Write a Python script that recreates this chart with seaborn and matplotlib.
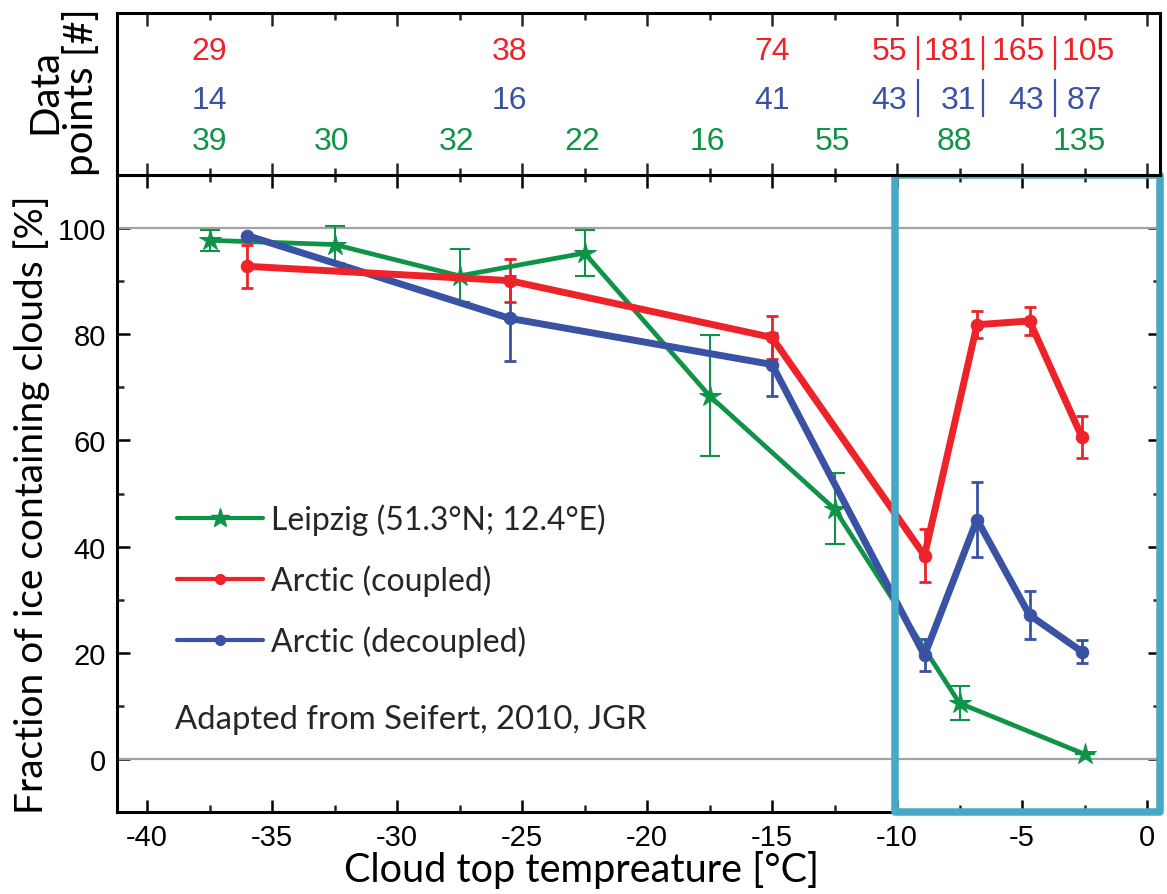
import numpy as np
import pandas as pd
import matplotlib
matplotlib.use("Agg")
import matplotlib.pyplot as plt
import matplotlib.transforms as mtransforms
from matplotlib.lines import Line2D
from matplotlib.patches import Rectangle
from matplotlib.ticker import MultipleLocator
import seaborn as sns

# ---------------- data ----------------
leipzig_temp = [-37.5, -32.5, -27.5, -22.5, -17.5, -12.5, -7.5, -2.5]
leipzig_frac = [97.7, 96.9, 91.0, 95.3, 68.4, 47.1, 10.5, 0.9]
leipzig_err = [2.0, 3.4, 5.0, 4.4, 11.4, 6.7, 3.2, 0.0]
leipzig_n = [39, 30, 32, 22, 16, 55, 88, 135]

arctic_temp = [-36.0, -25.5, -15.0, -8.9, -6.8, -4.7, -2.6]
coupled_frac = [92.8, 90.1, 79.4, 38.3, 81.8, 82.5, 60.6]
coupled_err = [4.0, 4.1, 4.0, 5.0, 2.5, 2.6, 4.0]
coupled_n = [29, 38, 74, 55, 181, 165, 105]
decoupled_frac = [98.6, 83.0, 74.3, 19.5, 45.1, 27.1, 20.2]
decoupled_err = [0.0, 8.0, 6.0, 3.0, 7.0, 4.5, 2.2]
decoupled_n = [14, 16, 41, 43, 31, 43, 87]

series_names = ["Leipzig (51.3°N; 12.4°E)", "Arctic (coupled)", "Arctic (decoupled)"]
x_ticks = [-40, -35, -30, -25, -20, -15, -10, -5, 0]
y_ticks = [0, 20, 40, 60, 80, 100]

# ---------------- layout (label positions in the count panel) ----------------
leipzig_label_x = [-37.5, -32.6, -27.6, -22.6, -17.6, -12.6, -7.7, -2.7]
coupled_label_x = [-37.5, -25.5, -15.0, -10.3, -7.85, -5.15, -2.35]
decoupled_label_x = [-37.5, -25.5, -15.0, -10.3, -7.55, -4.85, -2.5]
separator_x = [-9.15, -6.55, -3.68]

GREEN = "#0F9447"
RED = "#EE2229"
BLUE = "#3A52A3"
CYAN = "#47A9C6"
GRAY = "#A5A1A5"

sns.set_theme(style="ticks")
LABEL_FONT = ["Lato", "DejaVu Sans"]
TICK_FONT = ["Liberation Sans", "DejaVu Sans"]
plt.rcParams["font.family"] = TICK_FONT
plt.rcParams["axes.unicode_minus"] = False

df = pd.concat([
    pd.DataFrame({"temp": leipzig_temp, "frac": leipzig_frac, "series": series_names[0]}),
    pd.DataFrame({"temp": arctic_temp, "frac": coupled_frac, "series": series_names[1]}),
    pd.DataFrame({"temp": arctic_temp, "frac": decoupled_frac, "series": series_names[2]}),
], ignore_index=True)

fig = plt.figure(figsize=(11.67, 8.95), dpi=100)
ax = fig.add_axes([117 / 1167, 1 - 813 / 895, 1043 / 1167, (813 - 176) / 895])
axt = fig.add_axes([117 / 1167, 1 - 176 / 895, 1043 / 1167, (176 - 14) / 895], sharex=ax)

xlim = (-41.2, 0.52)
ax.set_xlim(*xlim)
ax.set_ylim(-10, 110)

# reference lines
ax.axhline(0, color=GRAY, lw=1.6, zorder=1)
ax.axhline(100, color=GRAY, lw=1.6, zorder=1)

# error bars
ax.errorbar(leipzig_temp, leipzig_frac, yerr=leipzig_err, fmt="none", ecolor=GREEN,
            elinewidth=1.5, capsize=7.5, capthick=1.5, zorder=2)
ax.errorbar(arctic_temp, decoupled_frac, yerr=decoupled_err, fmt="none", ecolor=BLUE,
            elinewidth=2.0, capsize=4.5, capthick=2.0, zorder=3)
ax.errorbar(arctic_temp, coupled_frac, yerr=coupled_err, fmt="none", ecolor=RED,
            elinewidth=2.0, capsize=4.5, capthick=2.0, zorder=4)

# lines
sns.lineplot(data=df[df.series == series_names[0]], x="temp", y="frac", ax=ax, color=GREEN,
             lw=3.4, marker="*", markersize=16, markeredgecolor=GREEN, sort=False,
             legend=False, zorder=5)
sns.lineplot(data=df[df.series == series_names[2]], x="temp", y="frac", ax=ax, color=BLUE,
             lw=5.0, marker="o", markersize=9, markeredgecolor=BLUE, sort=False,
             legend=False, zorder=6)
sns.lineplot(data=df[df.series == series_names[1]], x="temp", y="frac", ax=ax, color=RED,
             lw=5.0, marker="o", markersize=9, markeredgecolor=RED, sort=False,
             legend=False, zorder=7)

# axes styling
for a in (ax, axt):
    for s in a.spines.values():
        s.set_linewidth(2.2)
        s.set_color("black")
        s.set_visible(True)

ax.set_xticks(x_ticks)
ax.set_yticks(y_ticks)
ax.xaxis.set_minor_locator(MultipleLocator(2.5))
ax.yaxis.set_minor_locator(MultipleLocator(10))
ax.tick_params(which="major", direction="in", length=9, width=1.8, top=True, right=True,
               labelsize=21, pad=8, colors="black")
ax.tick_params(which="minor", direction="in", length=5, width=1.8, top=True, right=True)

ax.set_xlabel("Cloud top tempreature [°C]", fontsize=28.5, color="black", family=LABEL_FONT)
ax.xaxis.set_label_coords((582 - 117) / 1043, -0.060)
ax.set_ylabel("Fraction of ice containing clouds [%]", fontsize=28, color="black",
              family=LABEL_FONT)
ax.yaxis.set_label_coords(-0.064, (813 - 505) / 637)

# top count panel
axt.set_ylim(0, 1)
axt.tick_params(which="both", direction="in", top=True, bottom=True, left=False, right=False,
                labelbottom=False, labelleft=False, width=1.8)
axt.tick_params(which="major", length=9)
axt.tick_params(which="minor", length=5)
axt.set_ylabel("Data\npoints [#]", fontsize=29, linespacing=0.95, color="black",
               family=LABEL_FONT)
axt.yaxis.set_label_coords(-0.016, 0.52)

ROW_Y = {"red": 0.767, "blue": 0.466, "green": 0.209}
COUNT_FS = 23
for x, n in zip(coupled_label_x, coupled_n):
    axt.text(x, ROW_Y["red"], f"{n}", color=RED, ha="center", va="center", fontsize=COUNT_FS)
for x, n in zip(decoupled_label_x, decoupled_n):
    axt.text(x, ROW_Y["blue"], f"{n}", color=BLUE, ha="center", va="center", fontsize=COUNT_FS)
for x, n in zip(leipzig_label_x, leipzig_n):
    axt.text(x, ROW_Y["green"], f"{n}", color=GREEN, ha="center", va="center", fontsize=COUNT_FS)
axt.vlines(separator_x, 0.65, 0.86, color=RED, lw=1.6)
axt.vlines(separator_x, 0.36, 0.59, color=BLUE, lw=1.6)

# legend
handles = [
    Line2D([], [], color=GREEN, lw=3.0, marker="*", markersize=14),
    Line2D([], [], color=RED, lw=3.0, marker="o", markersize=7),
    Line2D([], [], color=BLUE, lw=3.0, marker="o", markersize=7),
]
ax.legend(handles, series_names, loc="upper left", bbox_to_anchor=(0.045, 0.505),
          frameon=False, prop={"family": LABEL_FONT, "size": 23}, handlelength=2.7,
          handletextpad=0.25, labelspacing=0.92, borderaxespad=0)

fig.text(175 / 1167, 1 - 720 / 895, "Adapted from Seifert, 2010, JGR", fontsize=23.7,
         va="center", ha="left", family=LABEL_FONT)

# highlight box
trans = mtransforms.blended_transform_factory(ax.transData, ax.transAxes)
x0 = -10.08
box = Rectangle((x0, 0.0), 0.5 - x0 + 0.02, 1.0, transform=trans, fill=False,
                edgecolor=CYAN, lw=5.4, joinstyle="round", clip_on=False, zorder=10)
ax.add_patch(box)

fig.savefig("out.png", dpi=100)
